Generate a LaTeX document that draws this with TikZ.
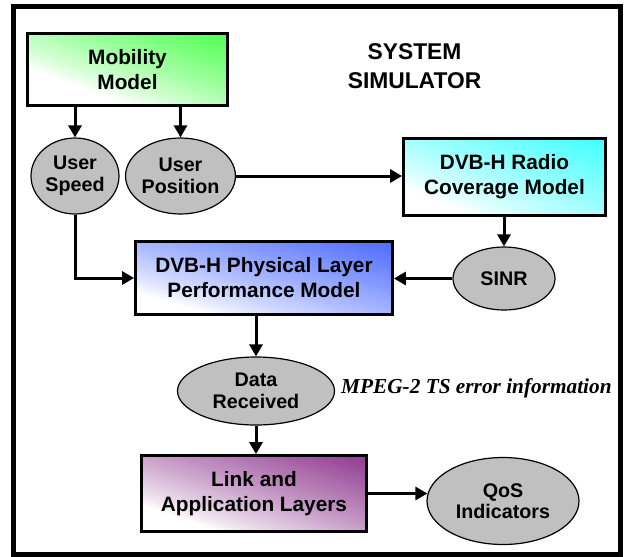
\documentclass[tikz,border=0pt]{standalone}
\usepackage{fontspec}
\setmainfont{Liberation Sans}
\newfontfamily\mpegfont{Liberation Serif}
\usetikzlibrary{shapes.geometric,arrows.meta,calc}
\definecolor{mobgreen}{RGB}{30,255,30}
\definecolor{radcyan}{RGB}{30,255,255}
\definecolor{phyblue}{RGB}{50,85,255}
\definecolor{linkpurp}{RGB}{125,25,125}
\definecolor{ellgray}{RGB}{192,192,192}
\tikzset{
  x=1pt,y=-1pt,
  boxnode/.style n args={3}{draw=black,line width=2.8pt,rectangle,inner sep=0pt,align=center,
    font=\bfseries\fontsize{20.8}{25}\selectfont,
    minimum width=#2pt,minimum height=#3pt,
    path picture={
      \begin{scope}[shift={(path picture bounding box.south west)},x=#2pt,y=#3pt]
        \foreach \k in {0,...,49}{
          \pgfmathsetmacro\lo{\k/25}
          \pgfmathsetmacro\hi{(\k+1)/25+0.01}
          \pgfmathtruncatemacro\pc{100*((\k+0.5)/50)^0.8}
          \fill[#1!\pc!white] (\lo+2,-2) -- (-2,\lo+2) -- (-2,\hi+2) -- (\hi+2,-2) -- cycle;
        }
      \end{scope}}},
  ellnode/.style={draw=black,line width=1.2pt,ellipse,fill=ellgray,inner sep=0pt,align=center,
    font=\bfseries\fontsize{19.7}{21.5}\selectfont},
  arr/.style={line width=3pt,-{Triangle[length=12pt,width=13pt]}},
}
\begin{document}
\begin{tikzpicture}
\useasboundingbox (0,0) rectangle (624,557);
\fill[white] (0,0) rectangle (624,557);
\draw[line width=4.6pt] (13.5,6.5) rectangle (620.7,554.7);

\node[boxnode={mobgreen}{200}{72}] (mob) at (127.5,69.5) {Mobility\\Model};
\node[boxnode={radcyan}{202}{77}] (rad) at (504.5,177) {DVB-H Radio\\Coverage Model};
\node[boxnode={phyblue}{257}{73}] (phy) at (264,278) {DVB-H Physical Layer\\Performance Model};
\node[boxnode={linkpurp}{225}{76}] (lnk) at (254,493.5) {Link and\\Application Layers};

\node[ellnode,minimum width=88pt,minimum height=76pt] (us) at (75,176) {User\\Speed};
\node[ellnode,minimum width=99pt,minimum height=76pt] (up) at (180.5,176) {User\\Position};
\node[ellnode,minimum width=102pt,minimum height=63pt] (sinr) at (504,278.5) {SINR};
\node[ellnode,minimum width=157pt,minimum height=68pt] (data) at (256,391) {Data\\Received};
\node[ellnode,minimum width=152pt,minimum height=87pt] (qos) at (503,501) {QoS\\Indicators};

\node[font=\bfseries\fontsize{22.8}{29}\selectfont,align=center,inner sep=0pt] (title) at (414.5,66) {SYSTEM\\SIMULATOR};
\node[font=\mpegfont\bfseries\itshape\fontsize{21.3}{25}\selectfont,anchor=base west,inner sep=0pt] (mpeg) at (341,393.5) {MPEG-2 TS error information};

\draw[arr] (us.north |- mob.south) -- (us.north);
\draw[arr] (up.north |- mob.south) -- (up.north);
\draw[arr] (up.east) -- (up.east -| rad.west);
\draw[arr] (sinr.north |- rad.south) -- (sinr.north);
\draw[arr] (sinr.west) -- (sinr.west -| phy.east);
\draw[arr] (us.south) |- (phy.west);
\draw[arr] (data.north |- phy.south) -- (data.north);
\draw[arr] (data.south) -- (data.south |- lnk.north);
\draw[arr] (lnk.east) -- ($(lnk.east -| qos.west)+(1,0)$);
\end{tikzpicture}
\end{document}
